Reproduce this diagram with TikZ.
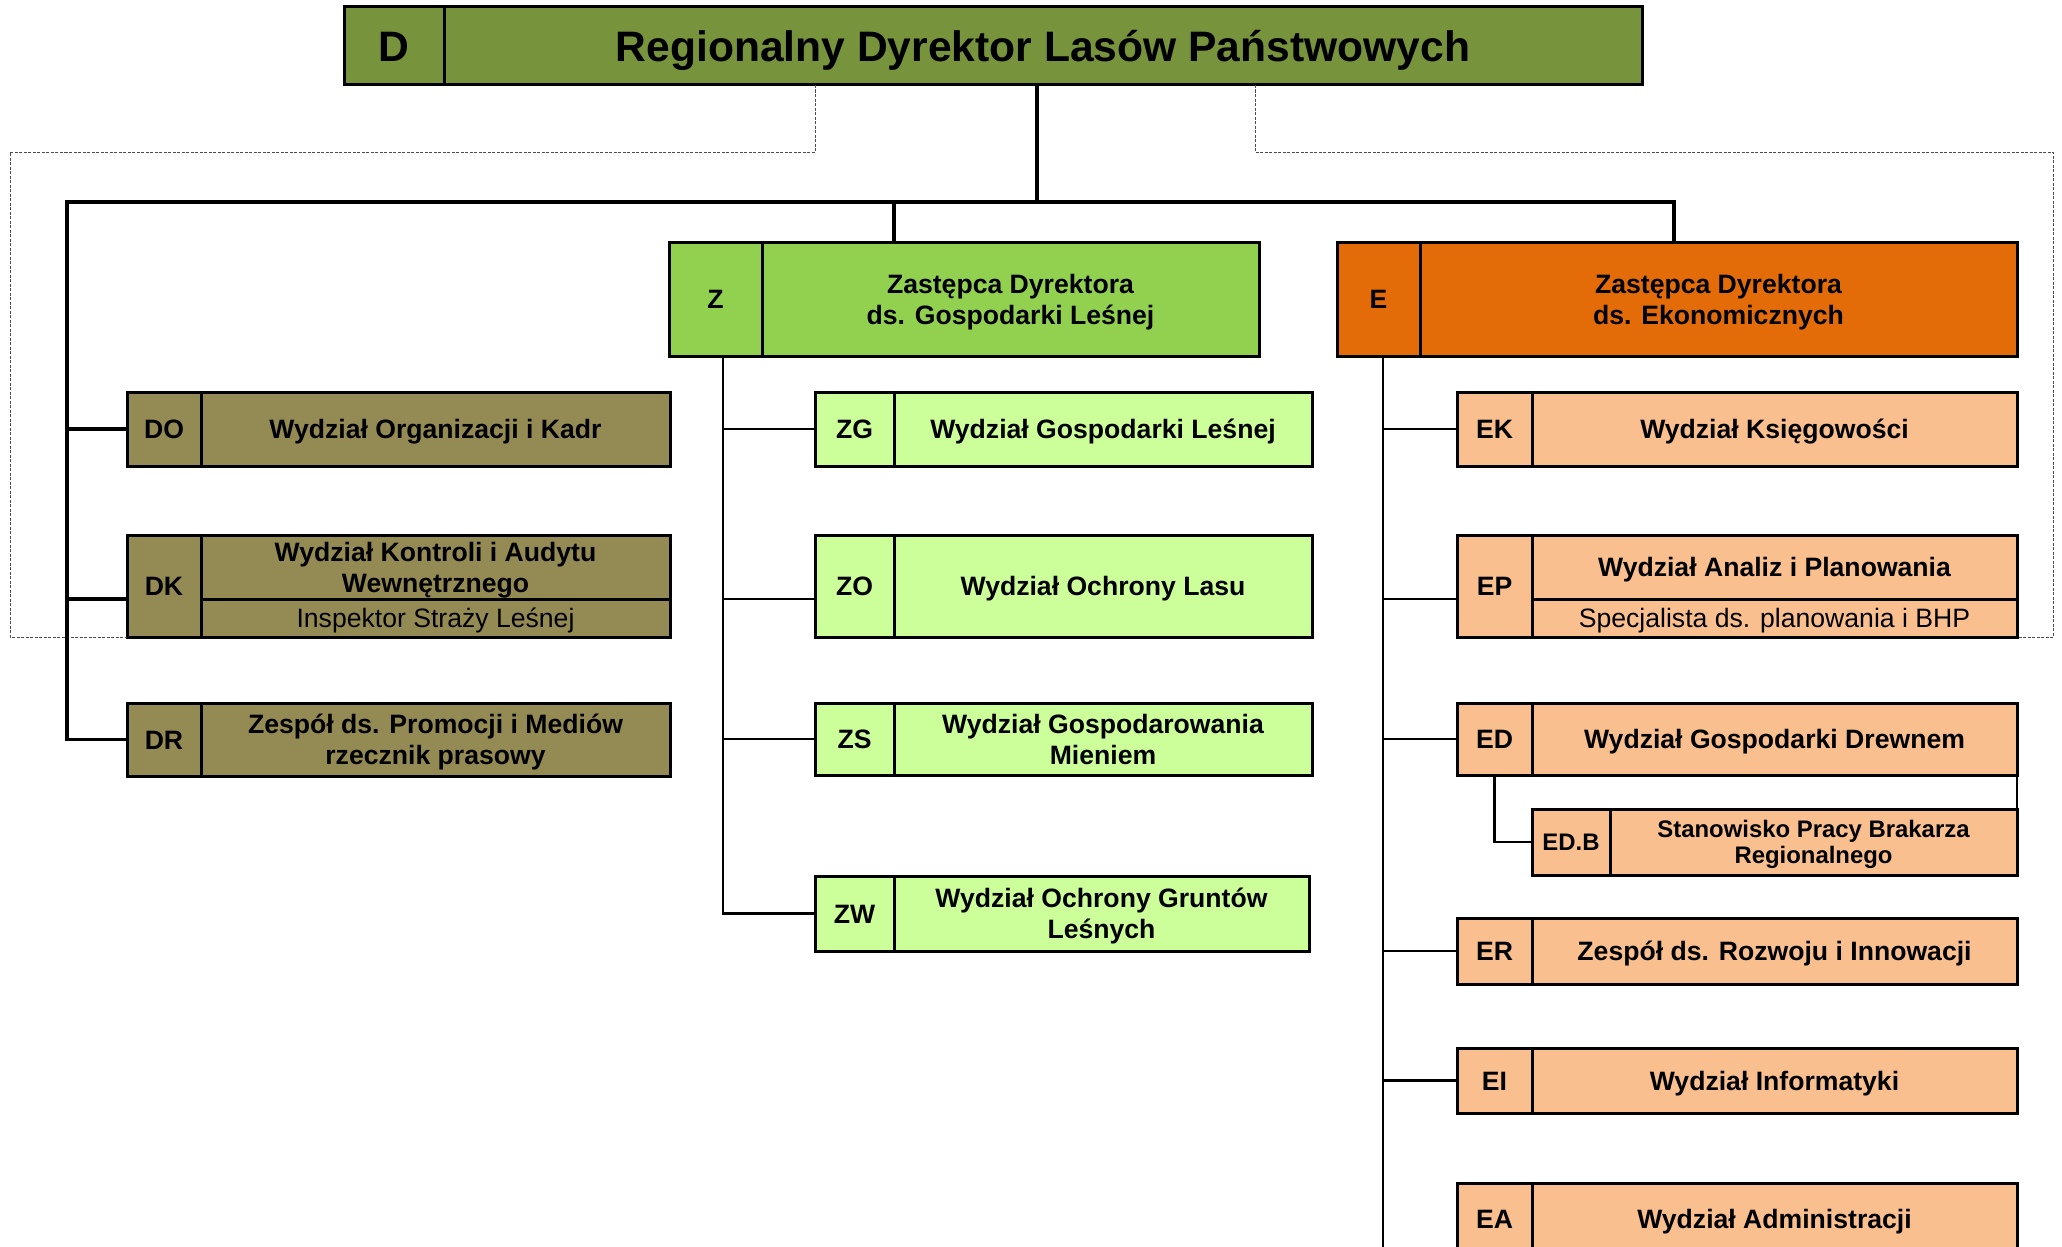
\documentclass[tikz,border=0pt]{standalone}
\usepackage{fontspec}
\setmainfont{Liberation Sans}
\usetikzlibrary{positioning, calc}

\definecolor{topgreen}{RGB}{119,147,60}
\definecolor{zgreen}{RGB}{146,208,80}
\definecolor{lightgreen}{RGB}{204,255,153}
\definecolor{dolive}{RGB}{148,138,84}
\definecolor{eorange}{RGB}{227,108,9}
\definecolor{peach}{RGB}{250,191,143}

\newcommand{\cellfont}{\fontsize{26.6}{31}\selectfont}
\newcommand{\smallcellfont}{\fontsize{23.9}{26.7}\selectfont}

\begin{document}
\begin{tikzpicture}[
        x=1pt, y=-1pt,
        cell/.style={draw, line width=3pt, inner sep=0pt, outer sep=0pt,
            anchor=north west, align=center, font=\cellfont\bfseries,
            text height=19pt, text depth=0pt},
        twolines/.style={text height=50pt},
        topcell/.style={cell, fill=topgreen, font=\fontsize{42.6}{50}\selectfont\bfseries,
            text height=30.5pt},
        dcell/.style={cell, fill=dolive},
        zhead/.style={cell, fill=zgreen},
        zcell/.style={cell, fill=lightgreen},
        ehead/.style={cell, fill=eorange},
        ecell/.style={cell, fill=peach},
        smallcell/.style={font=\smallcellfont\bfseries, text height=17.1pt},
        subline/.style={font=\cellfont},
        bus/.style={line width=3.5pt},
        tie/.style={line width=2.5pt},
        guide/.style={line width=1pt, gray!60!black, dash pattern=on 3pt off 1.5pt}
    ]

        \useasboundingbox (0,0) rectangle (2062,1247);
        \clip (0,0) rectangle (2062,1247);

% Dyrektor
        \node[topcell, minimum width=100pt, minimum height=78pt] (Dk) at (344,7) {D};
        \node[topcell, minimum width=1198pt, minimum height=78pt, right=0pt of Dk] (Dn) {Regionalny Dyrektor Lasów Państwowych};

% Zastepcy
        \node[zhead, minimum width=93pt, minimum height=114pt] (Zk) at (669,242) {Z};
        \node[zhead, twolines, minimum width=497pt, minimum height=114pt, right=0pt of Zk] (Zn) {Zastępca Dyrektora\\ds. Gospodarki Leśnej};
        \node[ehead, minimum width=83pt, minimum height=114pt] (Ek) at (1337,242) {E};
        \node[ehead, twolines, minimum width=597pt, minimum height=114pt, right=0pt of Ek] (En) {Zastępca Dyrektora\\ds. Ekonomicznych};

% Komorki podlegle dyrektorowi
        \node[dcell, minimum width=74pt, minimum height=74pt] (DOk) at (127,392) {DO};
        \node[dcell, minimum width=469pt, minimum height=74pt, right=0pt of DOk] (DOn) {Wydział Organizacji i Kadr};
        \node[dcell, minimum width=74pt, minimum height=102pt] (DKk) at (127,535) {DK};
        \node[dcell, twolines, minimum width=469pt, minimum height=64pt] (DKn) at (DKk.north east) {Wydział Kontroli i Audytu\\Wewnętrznego};
        \node[dcell, subline, minimum width=469pt, minimum height=38pt] (DKs) at (DKn.south west) {Inspektor Straży Leśnej};
        \node[dcell, minimum width=74pt, minimum height=73pt] (DRk) at (127,703) {DR};
        \node[dcell, twolines, minimum width=469pt, minimum height=73pt, right=0pt of DRk] (DRn) {Zespół ds. Promocji i Mediów\\rzecznik prasowy};

% Komorki pionu Z
        \node[zcell, minimum width=79pt, minimum height=74pt] (ZGk) at (815,392) {ZG};
        \node[zcell, minimum width=418pt, minimum height=74pt, right=0pt of ZGk] (ZGn) {Wydział Gospodarki Leśnej};
        \node[zcell, minimum width=79pt, minimum height=102pt] (ZOk) at (815,535) {ZO};
        \node[zcell, minimum width=418pt, minimum height=102pt, right=0pt of ZOk] (ZOn) {Wydział Ochrony Lasu};
        \node[zcell, minimum width=79pt, minimum height=72pt] (ZSk) at (815,703) {ZS};
        \node[zcell, twolines, minimum width=418pt, minimum height=72pt, right=0pt of ZSk] (ZSn) {Wydział Gospodarowania\\Mieniem};
        \node[zcell, minimum width=79pt, minimum height=75pt] (ZWk) at (815,876) {ZW};
        \node[zcell, twolines, minimum width=415pt, minimum height=75pt, right=0pt of ZWk] (ZWn) {Wydział Ochrony Gruntów\\Leśnych};

% Komorki pionu E
        \node[ecell, minimum width=75pt, minimum height=74pt] (EKk) at (1457,392) {EK};
        \node[ecell, minimum width=485pt, minimum height=74pt, right=0pt of EKk] (EKn) {Wydział Księgowości};
        \node[ecell, minimum width=75pt, minimum height=102pt] (EPk) at (1457,535) {EP};
        \node[ecell, minimum width=485pt, minimum height=64pt] (EPn) at (EPk.north east) {Wydział Analiz i Planowania};
        \node[ecell, subline, minimum width=485pt, minimum height=38pt] (EPs) at (EPn.south west) {Specjalista ds. planowania i BHP};
        \node[ecell, minimum width=75pt, minimum height=72pt] (EDk) at (1457,703) {ED};
        \node[ecell, minimum width=485pt, minimum height=72pt, right=0pt of EDk] (EDn) {Wydział Gospodarki Drewnem};
        \node[ecell, smallcell, minimum width=78pt, minimum height=66pt] (EDBk) at (1532,809) {ED.B};
        \node[ecell, smallcell, text height=43.8pt, minimum width=407pt, minimum height=66pt, right=0pt of EDBk] (EDBn) {Stanowisko Pracy Brakarza\\Regionalnego};
        \node[ecell, minimum width=75pt, minimum height=66pt] (ERk) at (1457,918) {ER};
        \node[ecell, minimum width=485pt, minimum height=66pt, right=0pt of ERk] (ERn) {Zespół ds. Rozwoju i Innowacji};
        \node[ecell, minimum width=75pt, minimum height=65pt] (EIk) at (1457,1048) {EI};
        \node[ecell, minimum width=485pt, minimum height=65pt, right=0pt of EIk] (EIn) {Wydział Informatyki};
        \node[ecell, minimum width=75pt, minimum height=72pt] (EAk) at (1457,1183) {EA};
        \node[ecell, minimum width=485pt, minimum height=72pt, right=0pt of EAk] (EAn) {Wydział Administracji};

% Punkty pomocnicze
        \coordinate (hub) at (1037,202);
        \coordinate (busL) at (67,202);
        \coordinate (busR) at (1674,202);
        \coordinate (zdrop) at (894,202);
        \coordinate (zcol) at (723,356);
        \coordinate (ecol) at (1383,356);
        \coordinate (eend) at (1383,1247);
        \coordinate (ZOp) at ($(ZOk.west)+(0,13)$);
        \coordinate (g1) at (815,152);
        \coordinate (gL) at (10,152);
        \coordinate (g2) at (1255,152);
        \coordinate (gR) at (2053,152);

% Linie przerywane
        \draw[guide] (g1 |- Dn.south) -- (g1) -- (gL) |- (DKk.south west);
        \draw[guide] (g2 |- Dn.south) -- (g2) -- (gR) |- (EPs.south east);

% Polaczenia glowne
        \draw[bus] (hub |- Dn.south) -- (hub);
        \draw[bus] (DRk.west) -| (busL) -- (busR) -- (busR |- En.north);
        \draw[bus] (zdrop) -- (zdrop |- Zn.north);
        \draw[bus] (busL |- DOk.west) -- (DOk.west);
        \draw[bus] (busL |- DKs.north) -- (DKk.west |- DKs.north);

% Pion Z
        \draw[tie] (zcol) |- (ZWk.west);
        \draw[tie] (zcol |- ZGk.west) -- (ZGk.west);
        \draw[tie] (zcol |- ZOp) -- (ZOp);
        \draw[tie] (zcol |- ZSk.west) -- (ZSk.west);

% Pion E
        \draw[tie] (ecol) -- (eend);
        \draw[tie] (ecol |- EKk.west) -- (EKk.west);
        \draw[tie] (ecol |- EPs.north) -- (EPk.west |- EPs.north);
        \draw[tie] (ecol |- EDk.west) -- (EDk.west);
        \draw[tie] (ecol |- ERk.west) -- (ERk.west);
        \draw[tie] (ecol |- EIk.west) -- (EIk.west);
        \draw[tie] (EDk.south) |- (EDBk.west);
        \draw[tie] (EDn.south east) -- (EDBn.north east);
    \end{tikzpicture}
\end{document}
